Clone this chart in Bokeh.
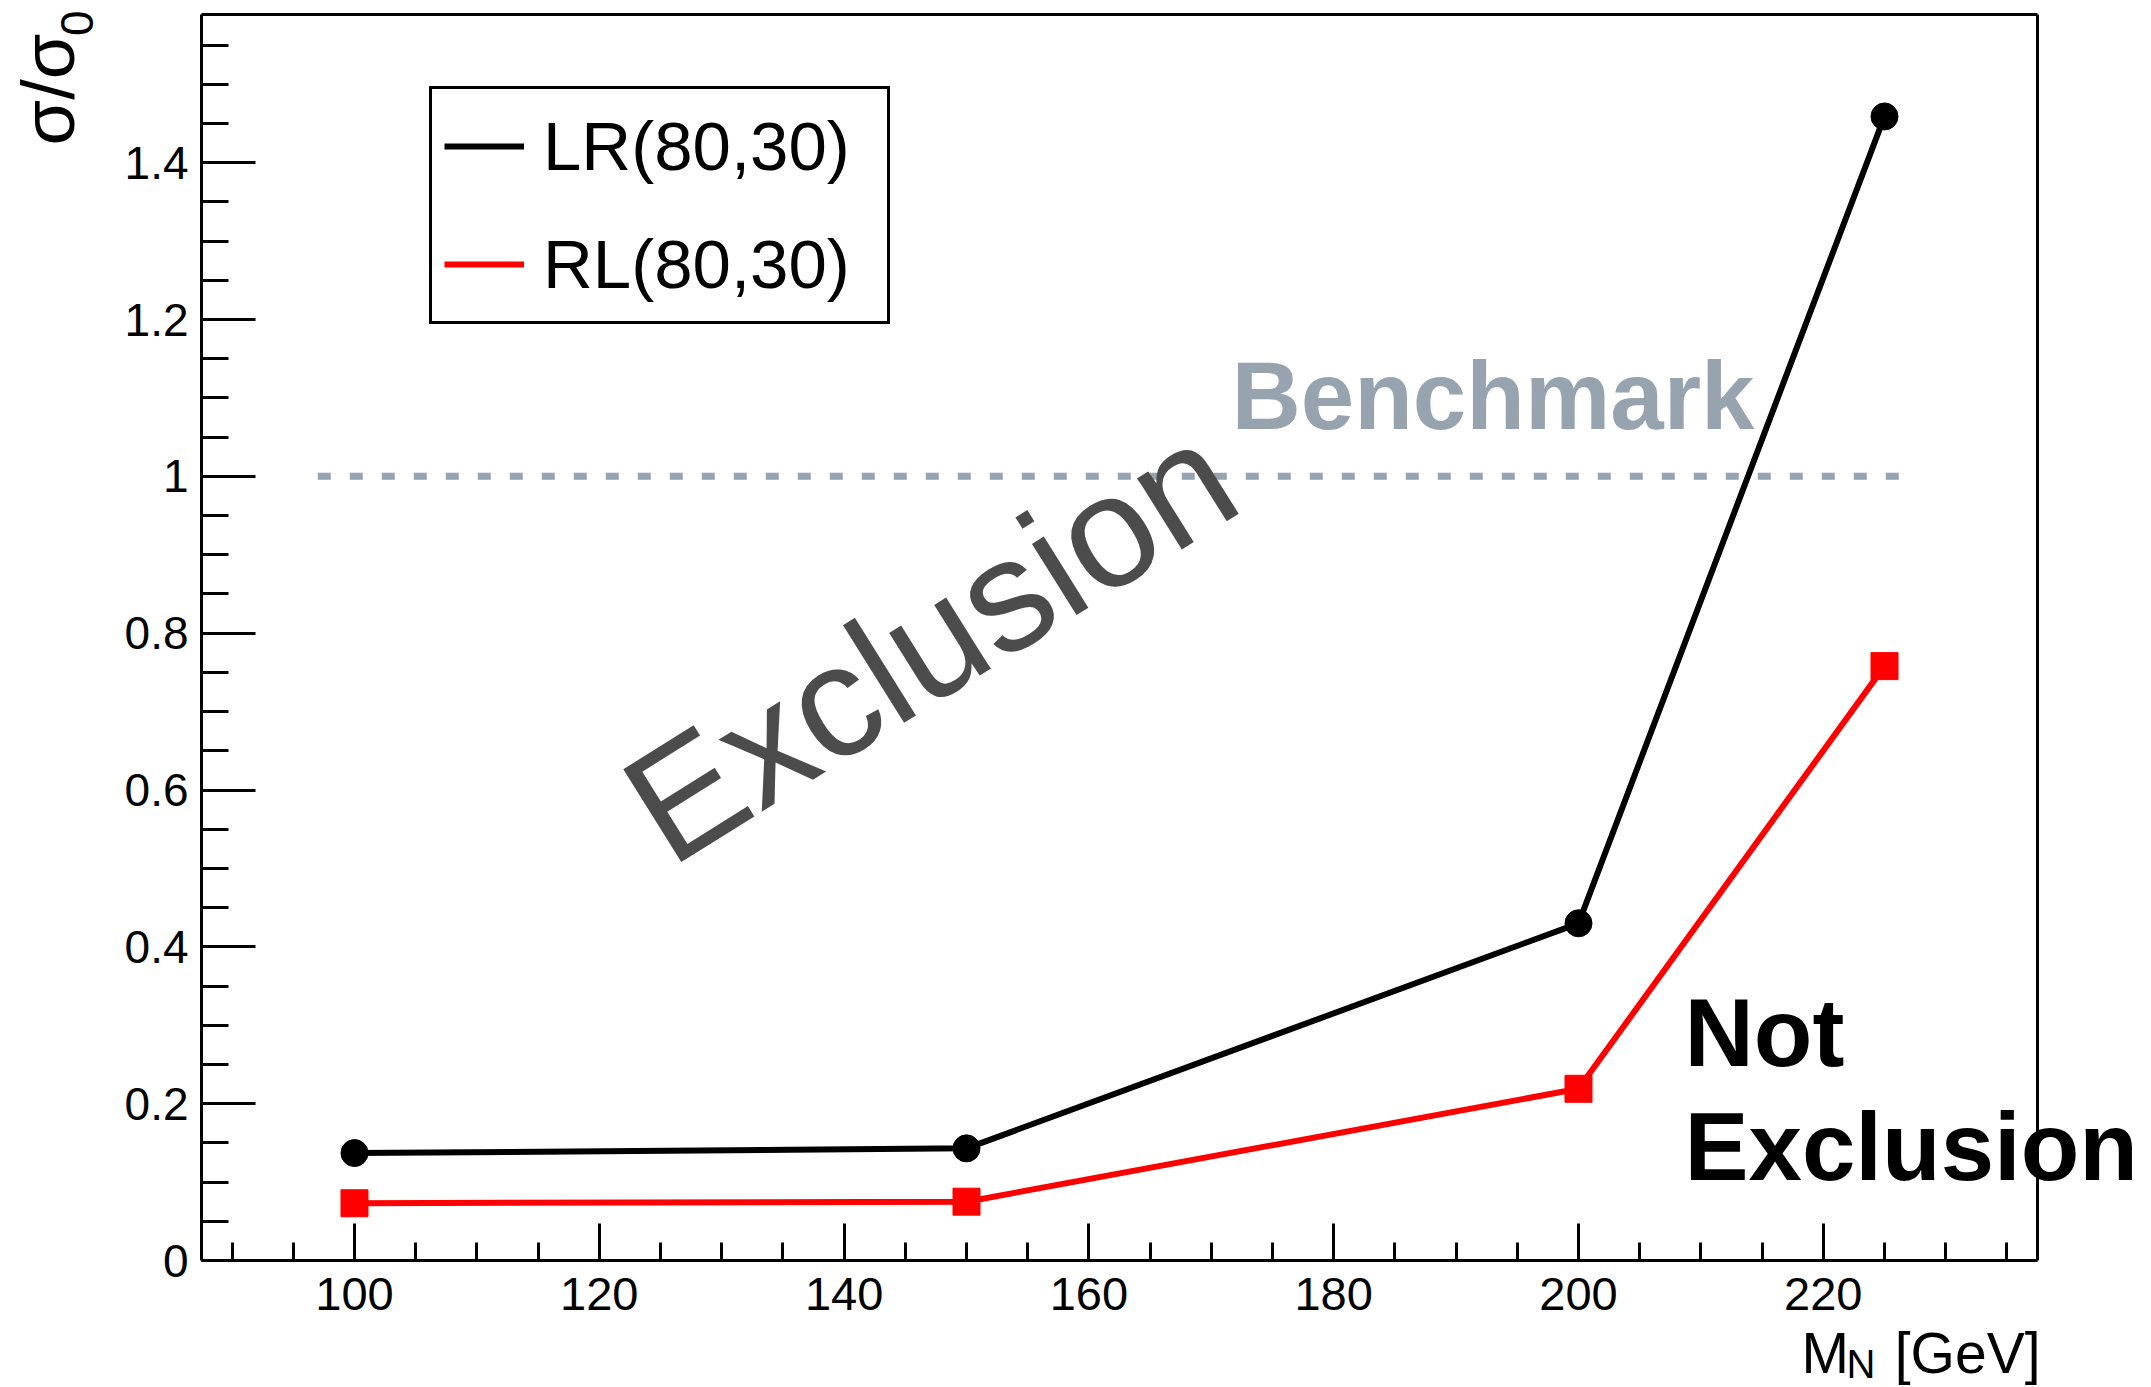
import math
from bokeh.plotting import figure
from bokeh.models import Range1d, FixedTicker, Label, Legend, LegendItem, LinearAxis
from bokeh.embed import file_html
from bokeh.resources import INLINE

# ---- data ----
mass = [100, 150, 200, 225]
lr_vals = [0.137, 0.143, 0.430, 1.459]
rl_vals = [0.073, 0.075, 0.219, 0.758]
series_names = ["LR(80,30)", "RL(80,30)"]

bench_x = [97, 227]
bench_y = [1.0, 1.0]

x_major = [100, 120, 140, 160, 180, 200, 220]
x_minor = [90, 95, 105, 110, 115, 125, 130, 135, 145, 150, 155, 165, 170, 175,
           185, 190, 195, 205, 210, 215, 225, 230, 235]
y_major = [0, 0.2, 0.4, 0.6, 0.8, 1.0, 1.2, 1.4]
y_major_labels = ["0", "0.2", "0.4", "0.6", "0.8", "1", "1.2", "1.4"]
y_minor = [0.05, 0.1, 0.15, 0.25, 0.3, 0.35, 0.45, 0.5, 0.55, 0.65, 0.7, 0.75,
           0.85, 0.9, 0.95, 1.05, 1.1, 1.15, 1.25, 1.3, 1.35, 1.45, 1.5, 1.55]

# axes box (data limits)
X0, X1 = 87.5, 237.5
Y0, Y1 = 0.0, 1.589

FONT = "Liberation Sans"
GREYBLUE = "#97a3af"
W, H = 2151, 1387
BL, BR, BT, BB = 201, 114, 14, 127          # box margins in canvas pixels
PX_X = (W - BL - BR) / (X1 - X0)
PX_Y = (H - BT - BB) / (Y1 - Y0)
XS, XE = X0 - BL / PX_X, X1 + BR / PX_X      # full-canvas ranges
YS, YE = Y0 - BB / PX_Y, Y1 + BT / PX_Y
BASE_FIX = 0.33


def dx(xc):
    return XS + xc / PX_X


def dy(yc):
    return YE - yc / PX_Y


p = figure(width=W, height=H, output_backend="svg", toolbar_location=None,
           x_range=Range1d(XS, XE), y_range=Range1d(YS, YE),
           min_border_left=0, min_border_right=0, min_border_top=0,
           min_border_bottom=0, min_border=0)
p.background_fill_color = "white"
p.border_fill_color = "white"
p.xgrid.visible = False
p.ygrid.visible = False
p.outline_line_color = None

# axes drawn at the box edges
p.xaxis.fixed_location = Y0
p.xaxis.bounds = (X0, X1)
p.yaxis.fixed_location = X0
p.yaxis.bounds = (Y0, Y1)
p.xaxis.ticker = FixedTicker(ticks=x_major, minor_ticks=x_minor)
p.yaxis.ticker = FixedTicker(ticks=y_major, minor_ticks=y_minor)
p.yaxis.major_label_overrides = {t: l for t, l in zip(y_major, y_major_labels)}
for ax, maj, mnr, stand, fs in ((p.xaxis, 37, 18, 17, "47px"), (p.yaxis, 54, 27, 13, "46px")):
    ax.axis_line_width = 3
    ax.major_tick_line_width = 3
    ax.minor_tick_line_width = 3
    ax.major_tick_in = maj
    ax.major_tick_out = 0
    ax.minor_tick_in = mnr
    ax.minor_tick_out = 0
    ax.major_label_text_font = FONT
    ax.major_label_text_font_size = fs
    ax.major_label_text_color = "black"
    ax.major_label_standoff = stand

top_ax = LinearAxis(fixed_location=Y1, bounds=(X0, X1), ticker=FixedTicker(ticks=[]),
                    axis_line_width=3, major_tick_line_color=None,
                    minor_tick_line_color=None, major_label_text_font_size="0px")
right_ax = LinearAxis(fixed_location=X1, bounds=(Y0, Y1), ticker=FixedTicker(ticks=[]),
                      axis_line_width=3, major_tick_line_color=None,
                      minor_tick_line_color=None, major_label_text_font_size="0px")
p.add_layout(top_ax, "above")
p.add_layout(right_ax, "right")

# benchmark line
p.line(bench_x, bench_y, line_color=GREYBLUE, line_width=7, line_dash="13 19")

# series
lr_line = p.line(mass, lr_vals, line_color="black", line_width=6)
p.scatter(mass, lr_vals, marker="circle", size=27, fill_color="black", line_color="black")
rl_line = p.line(mass, rl_vals, line_color="#ff0000", line_width=6)
p.scatter(mass, rl_vals, marker="square", size=27, fill_color="#ff0000", line_color="#ff0000")

legend = Legend(items=[LegendItem(label=series_names[0], renderers=[lr_line]),
                       LegendItem(label=series_names[1], renderers=[rl_line])],
                location=(429, H - 324))
legend.label_text_font = FONT
legend.label_text_font_size = "69px"
legend.label_text_color = "black"
legend.glyph_width = 80
legend.glyph_height = 90
legend.label_height = 90
legend.label_width = 332
legend.label_standoff = 19
legend.spacing = 28
legend.padding = 12
legend.margin = 0
legend.border_line_color = "black"
legend.border_line_alpha = 1
legend.border_line_width = 3
legend.background_fill_color = "white"
legend.background_fill_alpha = 1
p.add_layout(legend, "center")


def add_text(xc, yc, text, size, color="black", bold=False, angle=0, align="left"):
    shift = BASE_FIX * size
    a = math.radians(angle)
    xc2 = xc - shift * math.sin(a)
    yc2 = yc - shift * math.cos(a)
    p.add_layout(Label(x=dx(xc2), y=dy(yc2), text=text, text_font=FONT,
                       text_font_style="bold" if bold else "normal",
                       text_font_size=f"{size}px", text_color=color, angle=angle,
                       angle_units="deg", text_align=align, text_baseline="alphabetic"))


# annotations (canvas pixel positions of baselines)
add_text(1231, 427, "Benchmark", 96, GREYBLUE, bold=True)
add_text(957, 686, "Exclusion", 159, "#4c4c4c", angle=32, align="center")
add_text(1684, 1064, "Not", 96, bold=True)
add_text(1684, 1178, "Exclusion", 96, bold=True)

# axis titles
add_text(72, 33, "σ/σ", 74, angle=90, align="right")
add_text(92, 10, "0", 46, angle=90, align="right")
add_text(1801, 1371, "M", 57)
add_text(1846, 1377, "N", 40)
add_text(2040, 1371, "[GeV]", 57, align="right")

open("out.html", "w").write(file_html(p, INLINE))
